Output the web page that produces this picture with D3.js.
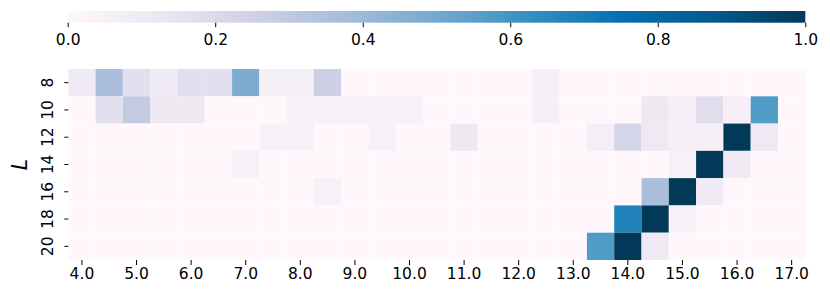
<!DOCTYPE html>
<html>
<head>
<meta charset="utf-8">
<script src="https://cdn.jsdelivr.net/npm/d3@7"></script>
<style>
  body { margin: 0; background: #fff; }
  svg { display: block; font-family: "DejaVu Sans", sans-serif; }
</style>
</head>
<body>
<div id="chart"></div>
<script>
// columns (x) and rows (L)
const xs = d3.range(27).map(i => 4 + i * 0.5);
const Ls = [8, 10, 12, 14, 16, 18, 20];
const xTicks = [4, 5, 6, 7, 8, 9, 10, 11, 12, 13, 14, 15, 16, 17];
const cbarTicks = [0, 0.2, 0.4, 0.6, 0.8, 1.0];

// one array per row, 27 values each (x = 4.0 ... 17.0)
const row8  = [0.10,0.36,0.17,0.10,0.17,0.17,0.48,0.07,0.07,0.26,0,0,0,0,0,0,0,0.06,0,0,0,0,0,0,0,0,0];
const row10 = [0,0.17,0.29,0.12,0.12,0,0,0,0.05,0.05,0.05,0.05,0.05,0,0,0,0,0.06,0,0,0,0.12,0.06,0.18,0.06,0.57,0];
const row12 = [0,0,0,0,0,0,0,0.05,0.05,0,0,0.05,0,0,0.12,0,0,0,0,0.07,0.23,0.11,0.06,0.06,1.0,0.11,0];
const row14 = [0,0,0,0,0,0,0.05,0,0,0,0,0,0,0,0,0,0,0,0,0,0,0,0.05,1.0,0.10,0,0];
const row16 = [0,0,0,0,0,0,0,0,0,0.05,0,0,0,0,0,0,0,0,0,0,0,0.36,1.0,0.10,0,0,0];
const row18 = [0,0,0,0,0,0,0,0,0,0,0,0,0,0,0,0,0,0,0,0,0.68,1.0,0.05,0,0,0,0];
const row20 = [0,0,0,0,0,0,0,0,0,0,0,0,0,0,0,0,0,0,0,0.57,1.0,0.11,0,0,0,0,0];
const rows = [row8, row10, row12, row14, row16, row18, row20];

// PuBu colormap
const pubu = ["#fff7fb","#ece7f2","#d0d1e6","#a6bddb","#74a9cf","#3690c0","#0570b0","#045a8d","#023858"];
const color = d3.scaleLinear()
    .domain(d3.range(9).map(i => i / 8))
    .range(pubu)
    .interpolate(d3.interpolateRgb)
    .clamp(true);

const width = 830, height = 300;
const x0 = 68.3, x1 = 805.3, y0 = 69, y1 = 260;

const svg = d3.select("#chart").append("svg")
    .attr("width", width)
    .attr("height", height);

const x = d3.scaleBand().domain(xs).range([x0, x1]).padding(0);
const y = d3.scaleBand().domain(Ls).range([y0, y1]).padding(0);

const cells = [];
rows.forEach((r, j) => r.forEach((v, i) => cells.push({x: xs[i], L: Ls[j], v})));

svg.append("g").selectAll("rect")
  .data(cells)
  .join("rect")
    .attr("x", d => x(d.x))
    .attr("y", d => y(d.L))
    .attr("width", x.bandwidth())
    .attr("height", y.bandwidth())
    .attr("fill", d => color(d.v));

// x axis
const xAxis = svg.append("g")
    .attr("transform", `translate(0,${y1})`)
    .call(d3.axisBottom(x).tickValues(xTicks).tickSize(5).tickPadding(3).tickFormat(d3.format(".1f")));
xAxis.select(".domain").remove();
xAxis.selectAll("text").attr("font-size", 15.5).attr("fill", "#000").attr("font-family", "DejaVu Sans");
xAxis.selectAll("line").attr("stroke", "#000").attr("stroke-width", 1);

// y axis
const yAxis = svg.append("g")
    .attr("transform", `translate(${x0},0)`)
    .call(d3.axisLeft(y).tickSize(4).tickFormat(d => d));
yAxis.select(".domain").remove();
yAxis.selectAll("line").attr("stroke", "#000");
yAxis.selectAll("text")
    .attr("font-size", 15.5)
    .attr("fill", "#000")
    .attr("font-family", "DejaVu Sans")
    .attr("x", null).attr("dy", null)
    .attr("text-anchor", "middle")
    .attr("transform", "translate(-15,0) rotate(-90)");

svg.append("text")
    .attr("transform", `translate(26.5,${(y0 + y1) / 2}) rotate(-90)`)
    .attr("text-anchor", "middle")
    .attr("font-size", 20.5)
    .attr("font-style", "italic")
    .text("L");

// colorbar
const cb = d3.scaleLinear().domain([0, 1]).range([67.7, 805.3]);
const grad = svg.append("defs").append("linearGradient").attr("id", "cbar");
grad.selectAll("stop")
  .data(d3.range(0, 1.0001, 0.025))
  .join("stop")
    .attr("offset", d => d)
    .attr("stop-color", d => color(d));

svg.append("rect")
    .attr("x", cb(0)).attr("y", 11)
    .attr("width", cb(1) - cb(0)).attr("height", 11.7)
    .attr("fill", "url(#cbar)");

const cAxis = svg.append("g")
    .attr("transform", "translate(0,22.7)")
    .call(d3.axisBottom(cb).tickValues(cbarTicks).tickSize(4.5).tickPadding(7).tickFormat(d3.format(".1f")));
cAxis.select(".domain").remove();
cAxis.selectAll("line").attr("stroke", "#000");
cAxis.selectAll("text").attr("font-size", 15.5).attr("fill", "#000").attr("font-family", "DejaVu Sans");
</script>
</body>
</html>
